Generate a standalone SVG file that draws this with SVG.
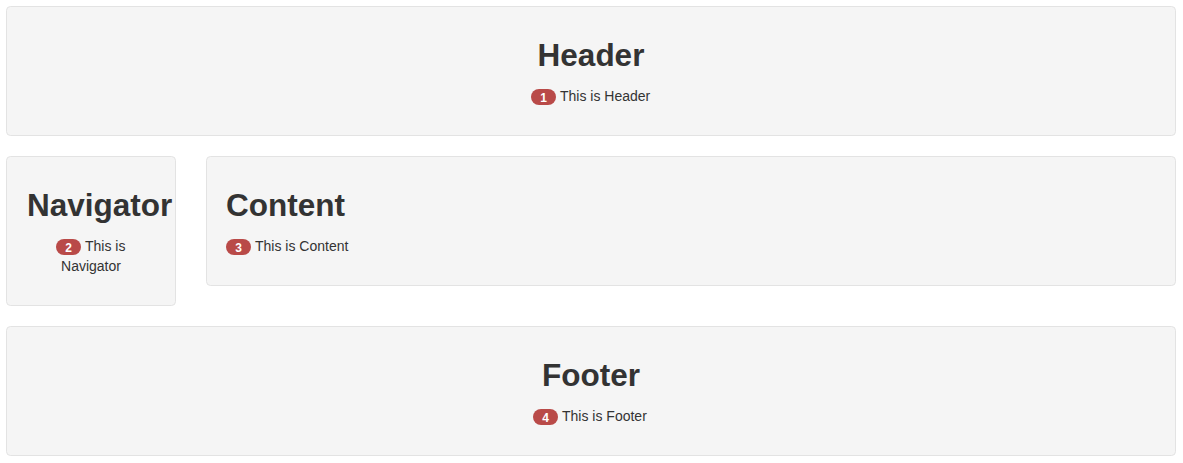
<svg xmlns="http://www.w3.org/2000/svg" width="1183" height="463" viewBox="0 0 1183 463">
<style>
.well{fill:#f5f5f5;stroke:#e3e3e3;stroke-width:1}
.h{font-family:"Liberation Sans",Arial,sans-serif;font-weight:bold;font-size:31.5px;fill:#333}
.t{font-family:"Liberation Sans",Arial,sans-serif;font-size:14px;fill:#333}
.badge{fill:#b94a48}
.bt{font-family:"Liberation Sans",Arial,sans-serif;font-weight:bold;font-size:12px;fill:#fff;text-anchor:middle}
</style>
<rect width="1183" height="463" fill="#fff"/>
<g id="header">
<rect class="well" x="6.5" y="6.5" width="1169" height="129" rx="4"/>
<text class="h" x="591" y="66" text-anchor="middle">Header</text>
<rect class="badge" x="531" y="89" width="25" height="16" rx="8"/>
<text class="bt" x="543.5" y="101.5">1</text>
<text class="t" x="560" y="101">This is Header</text>
</g>
<g id="navigator">
<rect class="well" x="6.5" y="156.5" width="169" height="149" rx="4"/>
<text class="h" x="27" y="216">Navigator</text>
<rect class="badge" x="56" y="239" width="25" height="16" rx="8"/>
<text class="bt" x="68.5" y="251.5">2</text>
<text class="t" x="85" y="251">This is</text>
<text class="t" x="91" y="271" text-anchor="middle">Navigator</text>
</g>
<g id="content">
<rect class="well" x="206.5" y="156.5" width="969" height="129" rx="4"/>
<text class="h" x="226" y="216">Content</text>
<rect class="badge" x="226" y="239" width="25" height="16" rx="8"/>
<text class="bt" x="238.5" y="251.5">3</text>
<text class="t" x="255" y="251">This is Content</text>
</g>
<g id="footer">
<rect class="well" x="6.5" y="326.5" width="1169" height="129" rx="4"/>
<text class="h" x="591" y="386" text-anchor="middle">Footer</text>
<rect class="badge" x="533" y="409" width="25" height="16" rx="8"/>
<text class="bt" x="545.5" y="421.5">4</text>
<text class="t" x="562" y="421">This is Footer</text>
</g>
<g id="connectors"></g>
</svg>
